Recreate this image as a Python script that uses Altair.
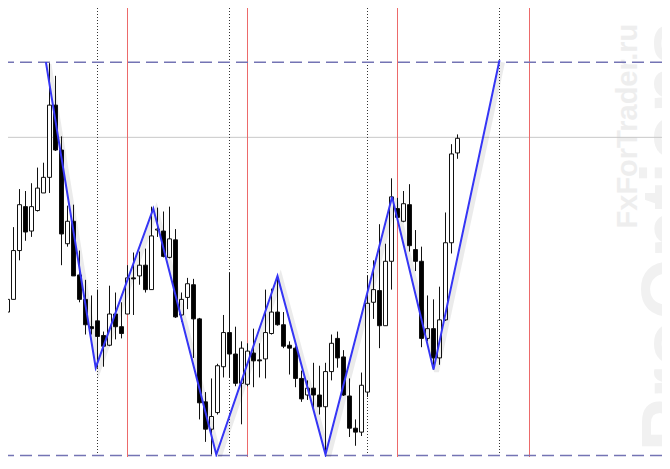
import altair as alt
import pandas as pd

# ---- candle data (bar index, price points) ----
bar_index = list(range(77))
opens = [134, 180, 193, 243, 288, 263, 284, 302, 318, 392,
         346, 250, 273, 218, 193, 165, 171, 156, 146, 178,
         165, 178, 215, 217, 228, 203, 264, 263, 236, 254,
         177, 195, 208, 173, 88, 60, 77, 124, 159, 137,
         107, 106, 138, 131, 132, 158, 180, 167, 146, 143,
         112, 95, 102, 95, 83, 119, 153, 134, 94, 61,
         57, 98, 190, 202, 166, 232, 286, 273, 290, 244,
         232, 153, 163, 133, 172, 251, 343]
highs = [197, 197, 267, 306, 304, 312, 328, 333, 435, 422,
         360, 289, 290, 243, 213, 197, 203, 160, 207, 200,
         190, 228, 241, 242, 245, 288, 287, 283, 288, 265,
         200, 215, 214, 174, 98, 112, 127, 177, 220, 165,
         150, 148, 163, 148, 203, 204, 217, 180, 150, 145,
         120, 110, 128, 125, 128, 157, 160, 141, 112, 70,
         118, 217, 233, 270, 250, 317, 297, 304, 311, 264,
         247, 197, 193, 206, 282, 352, 362]
lows = [125, 178, 193, 233, 253, 257, 283, 302, 302, 345,
        228, 247, 217, 190, 157, 157, 123, 124, 145, 152,
        153, 178, 177, 208, 200, 203, 257, 236, 235, 174,
        170, 183, 133, 70, 47, 34, 75, 113, 113, 104,
        65, 104, 103, 113, 112, 157, 166, 143, 116, 103,
        88, 90, 80, 75, 34, 110, 123, 94, 52, 43,
        53, 93, 173, 143, 166, 203, 275, 272, 242, 222,
        144, 150, 121, 126, 171, 240, 337]
closes = [179, 193, 243, 290, 262, 288, 307, 318, 392, 346,
          260, 273, 217, 193, 167, 163, 155, 145, 178, 165,
          158, 215, 214, 228, 203, 258, 265, 237, 255, 175,
          193, 209, 173, 87, 60, 73, 125, 159, 137, 107,
          143, 140, 130, 130, 159, 180, 167, 145, 143, 112,
          91, 102, 95, 83, 119, 148, 133, 95, 61, 57,
          105, 189, 203, 166, 232, 298, 277, 291, 248, 232,
          153, 163, 133, 172, 251, 342, 358]

# ---- zigzag ----
zz_index = [7.4, 15.7, 25.3, 35.8, 46, 54, 65.1, 72, 83]
zz_price = [436, 123, 286, 34, 217, 34, 298, 121, 438]

# ---- levels / separators ----
dashed_levels = [436, 33]
grid_level = [359]
red_separators = [1, 21, 41, 66, 88]
dotted_separators = [16, 38, 61, 83]

# ---- watermark ----
wm_text = ["FxForTrader.ru", "ProOptions"]
wm_index = [105.9, 115.9]
wm_price = [370.5, 257.5]
wm_size = [29, 79]
wm_color = ["#eeeeee", "#f1f1f1"]

candles = pd.DataFrame({
    "i": bar_index, "open": opens, "high": highs, "low": lows, "close": closes,
})
candles["dir"] = ["up" if c >= o else "down" for o, c in zip(opens, closes)]
zz = pd.DataFrame({"i": zz_index, "p": zz_price, "k": list(range(len(zz_index)))})

W, H = 654, 449
xs = alt.Scale(domain=[6.5 / 6, (6.5 + W) / 6], nice=False, zero=False, padding=0)
ys = alt.Scale(domain=[31.5, 491.5], nice=False, zero=False, padding=0)
X = lambda f: alt.X(f, type="quantitative", scale=xs, axis=None)
Y = lambda f: alt.Y(f, type="quantitative", scale=ys, axis=None)

layers = []
for t, xi, pi, sz, col in zip(wm_text, wm_index, wm_price, wm_size, wm_color):
    d = pd.DataFrame({"i": [xi], "p": [pi], "t": [t]})
    layers.append(
        alt.Chart(d).mark_text(angle=270, align="center", baseline="alphabetic",
                               font="Liberation Sans", fontWeight="bold",
                               fontSize=sz, color=col, clip=True)
        .encode(x=X("i"), y=Y("p"), text="t:N")
    )

layers.append(
    alt.Chart(pd.DataFrame({"p": grid_level})).mark_rule(color="#c8c8c8", strokeWidth=1, clip=True)
    .encode(y=Y("p"))
)
layers.append(
    alt.Chart(pd.DataFrame({"i": red_separators})).mark_rule(color="#ec6a6a", strokeWidth=1, clip=True)
    .encode(x=X("i"))
)
layers.append(
    alt.Chart(pd.DataFrame({"i": dotted_separators}))
    .mark_rule(color="#333333", strokeWidth=1, strokeDash=[1, 2], clip=True)
    .encode(x=X("i"))
)
layers.append(
    alt.Chart(pd.DataFrame({"p": dashed_levels}))
    .mark_rule(color="#7474b4", strokeWidth=1.5, strokeDash=[12, 6], clip=True)
    .encode(y=Y("p"))
)
layers.append(
    alt.Chart(candles).mark_rule(color="#111111", strokeWidth=1, clip=True)
    .encode(x=X("i"), y=Y("low"), y2="high")
)
layers.append(
    alt.Chart(candles).mark_bar(width=4, stroke="#111111", strokeWidth=1, clip=True)
    .encode(x=X("i"), y=Y("open"), y2="close",
            color=alt.Color("dir:N", scale=alt.Scale(domain=["up", "down"], range=["white", "black"]), legend=None))
)
layers.append(
    alt.Chart(zz).mark_line(color="#000000", strokeWidth=5, opacity=0.08, xOffset=3, yOffset=2, clip=True)
    .encode(x=X("i"), y=Y("p"), order="k:Q")
)
layers.append(
    alt.Chart(zz).mark_line(color="#3535f5", strokeWidth=2, clip=True)
    .encode(x=X("i"), y=Y("p"), order="k:Q")
)

chart = alt.layer(*layers).properties(
    width=W, height=H, autosize="none", padding=0, background="white"
).configure_view(stroke=None)

chart.save("out.html", embed_options={"renderer": "svg", "actions": False})
